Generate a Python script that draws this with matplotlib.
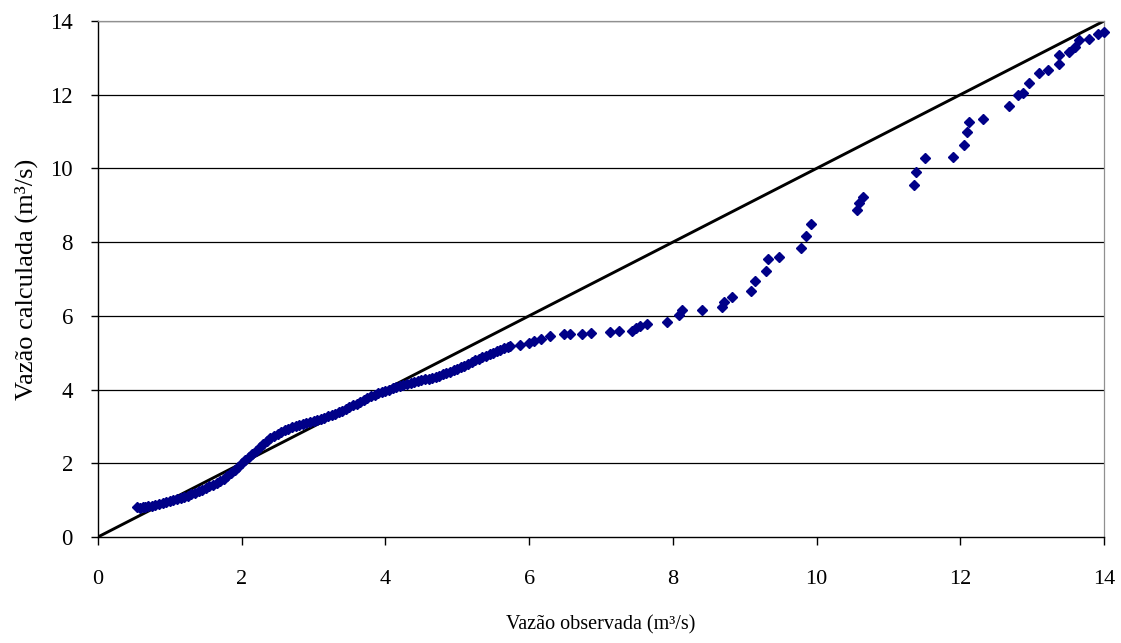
import matplotlib
matplotlib.use("Agg")
import matplotlib.pyplot as plt

# Observed vs. calculated discharge (m³/s)
obs_dense = [0.55, 0.58, 0.62, 0.66, 0.70, 0.75, 0.80, 0.85, 0.90, 0.95,
             1.00, 1.05, 1.10, 1.15, 1.20, 1.25, 1.30, 1.35, 1.40, 1.45,
             1.50, 1.55, 1.60, 1.65, 1.70, 1.75, 1.80, 1.85, 1.90, 1.95,
             2.00, 2.05, 2.10, 2.15, 2.20, 2.25, 2.30, 2.35, 2.40, 2.45,
             2.50, 2.55, 2.60, 2.65, 2.70, 2.75, 2.80, 2.85, 2.90, 2.95,
             3.00, 3.05, 3.10, 3.15, 3.20, 3.25, 3.30, 3.35, 3.40, 3.45,
             3.50, 3.55, 3.60, 3.65, 3.70, 3.75, 3.80, 3.85, 3.90, 3.95,
             4.00, 4.05, 4.10, 4.15, 4.20, 4.25, 4.30, 4.35, 4.40, 4.45,
             4.50, 4.55, 4.60, 4.65, 4.70, 4.75, 4.80, 4.85, 4.90, 4.95,
             5.00, 5.05, 5.10, 5.15, 5.20, 5.25, 5.30, 5.35, 5.40, 5.45,
             5.50, 5.55, 5.60, 5.65, 5.70]
calc_dense = [0.80, 0.79, 0.81, 0.82, 0.83, 0.85, 0.88, 0.90, 0.93, 0.95,
              0.98, 1.00, 1.03, 1.06, 1.09, 1.12, 1.16, 1.20, 1.24, 1.28,
              1.32, 1.37, 1.42, 1.47, 1.52, 1.58, 1.66, 1.74, 1.82, 1.91,
              2.00, 2.08, 2.17, 2.26, 2.34, 2.43, 2.52, 2.60, 2.68, 2.74,
              2.80, 2.85, 2.90, 2.94, 2.98, 3.01, 3.04, 3.07, 3.09, 3.11,
              3.14, 3.17, 3.20, 3.23, 3.27, 3.31, 3.35, 3.39, 3.43, 3.47,
              3.52, 3.57, 3.62, 3.67, 3.72, 3.77, 3.82, 3.86, 3.90, 3.94,
              3.97, 4.00, 4.04, 4.07, 4.10, 4.13, 4.16, 4.19, 4.21, 4.24,
              4.26, 4.28, 4.30, 4.32, 4.35, 4.38, 4.41, 4.44, 4.48, 4.52,
              4.56, 4.60, 4.65, 4.70, 4.75, 4.80, 4.84, 4.88, 4.92, 4.96,
              5.00, 5.04, 5.08, 5.12, 5.15]

obs_sparse = [5.73, 5.87, 6.00, 6.07, 6.17, 6.29, 6.48, 6.57, 6.74, 6.86,
              7.12, 7.25, 7.43, 7.49, 7.54, 7.64, 7.92, 8.08, 8.13, 8.41,
              8.68, 8.71, 8.82, 9.09, 9.14, 9.30, 9.33, 9.48, 9.79, 9.85,
              9.92, 10.56, 10.59, 10.64, 11.36, 11.39, 11.51, 11.90, 12.05, 12.10,
              12.12, 12.32, 12.68, 12.81, 12.88, 12.95, 13.10, 13.22, 13.37, 13.37,
              13.51, 13.60, 13.65, 13.79, 13.92, 14.00]
calc_sparse = [5.18, 5.20, 5.27, 5.33, 5.36, 5.46, 5.50, 5.50, 5.50, 5.53,
               5.57, 5.59, 5.59, 5.68, 5.72, 5.77, 5.83, 6.02, 6.16, 6.16,
               6.25, 6.38, 6.52, 6.68, 6.95, 7.22, 7.53, 7.61, 7.83, 8.17,
               8.49, 8.86, 9.05, 9.23, 9.55, 9.91, 10.28, 10.32, 10.63, 11.00,
               11.27, 11.33, 11.69, 11.98, 12.05, 12.33, 12.58, 12.67, 12.84, 13.09,
               13.15, 13.30, 13.48, 13.50, 13.66, 13.70]

ref_line = [0, 14]
ticks = [0, 2, 4, 6, 8, 10, 12, 14]

plt.rcParams['font.family'] = ['Liberation Serif', 'DejaVu Serif']

fig = plt.figure(figsize=(11.21, 6.43), dpi=100)
ax = fig.add_axes([0.0874, 0.1649, 0.8974, 0.8024])

ax.set_xlim(0, 14)
ax.set_ylim(0, 14)
ax.set_xticks(ticks)
ax.set_yticks(ticks)

for t in ticks[1:]:
    ax.axhline(t, color='#000000', lw=0.9, zorder=1)

ax.plot(ref_line, ref_line, color='black', lw=2.1, zorder=2, solid_capstyle='butt')

ax.plot(obs_dense + obs_sparse, calc_dense + calc_sparse, linestyle='none',
        marker='D', ms=4.8, color='#000088', mec='#000088', mew=1.0,
        zorder=3, clip_on=False)

for side in ('top', 'right'):
    ax.spines[side].set_color('#909090')
    ax.spines[side].set_linewidth(0.9)
for side in ('left', 'bottom'):
    ax.spines[side].set_color('black')
    ax.spines[side].set_linewidth(1.0)

ax.tick_params(axis='x', direction='out', length=6, width=1.0, pad=18, labelsize=16)
ax.tick_params(axis='y', direction='out', length=5, width=1.0, pad=13, labelsize=16.5)

ax.set_xlabel('Vazão observada (m³/s)', fontsize=14.5, labelpad=19)
ax.set_ylabel('Vazão calculada (m³/s)', fontsize=19, labelpad=9)

fig.savefig('out.png', dpi=100)
